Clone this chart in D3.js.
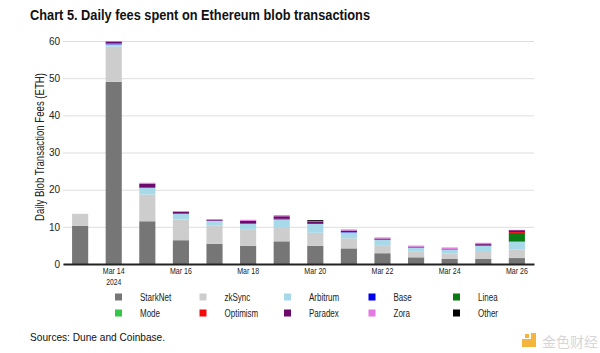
<!DOCTYPE html>
<html lang="en">
<head>
  <meta charset="UTF-8">
  <title>Daily fees spent on Ethereum blob transactions</title>
  <script src="https://d3js.org/d3.v7.min.js"></script>
  <style>
    body { margin: 0; padding: 0; background: #fff; }
    svg { display: block; font-family: 'Liberation Sans', Arial, sans-serif; }
  </style>
</head>
<body>
  <div id="chart"></div>
  <script>
    // days on the x axis
    const dates = ["Mar 13", "Mar 14", "Mar 15", "Mar 16", "Mar 17", "Mar 18", "Mar 19",
                   "Mar 20", "Mar 21", "Mar 22", "Mar 23", "Mar 24", "Mar 25", "Mar 26"];
    const tickLabels = ["Mar 14", "Mar 16", "Mar 18", "Mar 20", "Mar 22", "Mar 24", "Mar 26"];
    const yTicks = [0, 10, 20, 30, 40, 50, 60];

    // fees per rollup (ETH)
    const starknet = [10.3, 49.0, 11.5, 6.4, 5.4, 4.9, 6.1, 4.9, 4.2, 2.9, 1.8, 1.35, 1.35, 1.6];
    const zksync   = [3.2, 9.5, 7.2, 5.6, 5.0, 4.3, 3.6, 3.5, 2.7, 2.0, 1.5, 1.45, 2.15, 2.35];
    const arbitrum = [0, 0.6, 1.8, 1.5, 1.2, 1.6, 2.3, 2.4, 1.6, 1.6, 1.1, 1.1, 1.4, 2.05];
    const base     = [0, 0.1, 0.15, 0.05, 0.05, 0.1, 0.15, 0.2, 0.1, 0.05, 0.05, 0.05, 0.05, 0.05];
    const linea    = [0, 0, 0, 0, 0, 0, 0, 0, 0, 0, 0, 0, 0, 2.3];
    const mode     = [0, 0, 0, 0, 0, 0, 0, 0, 0, 0, 0, 0, 0, 0];
    const optimism = [0, 0.15, 0, 0, 0, 0, 0, 0, 0, 0, 0, 0, 0, 0.25];
    const paradex  = [0, 0.5, 0.9, 0.5, 0.2, 0.7, 0.7, 0.4, 0.4, 0.3, 0.2, 0.1, 0.4, 0.5];
    const zora     = [0, 0.1, 0.3, 0.2, 0.25, 0.3, 0.3, 0.1, 0.3, 0.3, 0.3, 0.4, 0.35, 0.1];
    const other    = [0, 0, 0, 0, 0, 0, 0, 0.3, 0, 0, 0, 0, 0, 0];

    const seriesNames = ["StarkNet", "zkSync", "Arbitrum", "Base", "Linea", "Mode", "Optimism", "Paradex", "Zora", "Other"];
    const seriesValues = [starknet, zksync, arbitrum, base, linea, mode, optimism, paradex, zora, other];
    const colors = ["#767676", "#cdcdcd", "#a7d9e8", "#0000f0", "#0a7a14", "#33c648", "#f50a0a", "#6c0a6e", "#e27ae0", "#000000"];

    const W = 600, H = 353;
    const svg = d3.select("#chart").append("svg")
      .attr("width", W)
      .attr("height", H);

    // squeeze text horizontally, the source uses a condensed face
    function condense(sel, k) {
      sel.each(function() {
        const w = this.getComputedTextLength();
        d3.select(this).attr("textLength", w * k).attr("lengthAdjust", "spacingAndGlyphs");
      });
    }

    const rows = dates.map((d, i) => {
      const r = { date: d };
      seriesNames.forEach((s, j) => r[s] = seriesValues[j][i]);
      return r;
    });
    const layers = d3.stack().keys(seriesNames)(rows);

    const x = d3.scaleBand().domain(dates).range([63, 534]).paddingInner(0.52).paddingOuter(0.27);
    const y = d3.scaleLinear().domain([0, 60]).range([264, 41]);
    const color = d3.scaleOrdinal(seriesNames, colors);

    // title
    svg.append("text")
      .attr("x", 30).attr("y", 20)
      .attr("font-size", 15.5).attr("font-weight", "bold")
      .attr("fill", "#111")
      .attr("textLength", 340).attr("lengthAdjust", "spacingAndGlyphs")
      .text("Chart 5. Daily fees spent on Ethereum blob transactions");

    // gridlines + y labels
    const yAxis = svg.append("g").attr("transform", "translate(63,0)")
      .call(d3.axisLeft(y).tickValues(yTicks).tickSize(-(534 - 63)).tickPadding(3));
    yAxis.select(".domain").remove();
    yAxis.selectAll(".tick line").attr("stroke", "#dedede");
    yAxis.selectAll(".tick text").attr("font-size", 10).attr("fill", "#222")
      .attr("font-family", "'Liberation Sans', Arial, sans-serif");

    svg.append("text")
      .attr("transform", "translate(44,147) rotate(-90)")
      .attr("text-anchor", "middle")
      .attr("font-size", 12).attr("fill", "#222")
      .attr("textLength", 148).attr("lengthAdjust", "spacingAndGlyphs")
      .text("Daily Blob Transaction Fees (ETH)");

    // bars
    svg.append("g").selectAll("g")
      .data(layers)
      .join("g")
      .attr("fill", d => color(d.key))
      .selectAll("rect")
      .data(d => d)
      .join("rect")
      .attr("x", d => x(d.data.date))
      .attr("width", x.bandwidth())
      .attr("y", d => y(d[1]))
      .attr("height", d => y(d[0]) - y(d[1]));

    // baseline + x labels
    const xAxis = svg.append("g").attr("transform", "translate(0,264)")
      .call(d3.axisBottom(x).tickValues(tickLabels).tickSize(0).tickPadding(4));
    xAxis.select(".domain").attr("stroke", "#222").attr("stroke-width", 2);
    xAxis.selectAll(".tick text").attr("font-size", 9).attr("fill", "#222")
      .call(condense, 0.78);
    svg.append("text")
      .attr("x", x("Mar 14") + x.bandwidth() / 2).attr("y", 284.5)
      .attr("text-anchor", "middle").attr("font-size", 8.5).attr("fill", "#222")
      .text("2024")
      .call(condense, 0.8);

    // legend, rows of five
    const legend = svg.append("g").selectAll("g")
      .data(seriesNames)
      .join("g")
      .attr("transform", (d, i) => `translate(${115 + (i % 5) * 84.5},${297 + Math.floor(i / 5) * 16})`);
    legend.append("rect")
      .attr("x", 0).attr("y", -3.5)
      .attr("width", 7).attr("height", 7)
      .attr("fill", d => color(d));
    legend.append("text")
      .attr("x", 25).attr("y", 3.5)
      .attr("font-size", 10).attr("fill", "#222")
      .text(d => d)
      .call(condense, 0.8);

    // source
    svg.append("text")
      .attr("x", 30).attr("y", 341)
      .attr("font-size", 11).attr("fill", "#111")
      .text("Sources: Dune and Coinbase.")
      .call(condense, 0.92);

    // watermark
    const wm = svg.append("g").attr("transform", "translate(522,333)");
    wm.append("rect").attr("x", 0).attr("y", 6).attr("width", 13).attr("height", 8).attr("fill", "#f3b53c");
    wm.append("rect").attr("x", 9).attr("y", 0).attr("width", 5).attr("height", 14).attr("fill", "#f3b53c");
    wm.append("rect").attr("x", 3).attr("y", 1).attr("width", 4).attr("height", 4).attr("fill", "#f3b53c");
    wm.append("text")
      .attr("x", 20).attr("y", 14)
      .attr("font-family", "'Noto Sans CJK SC', sans-serif")
      .attr("font-size", 14).attr("fill", "#d6d6d6")
      .text("金色财经");
  </script>
</body>
</html>
